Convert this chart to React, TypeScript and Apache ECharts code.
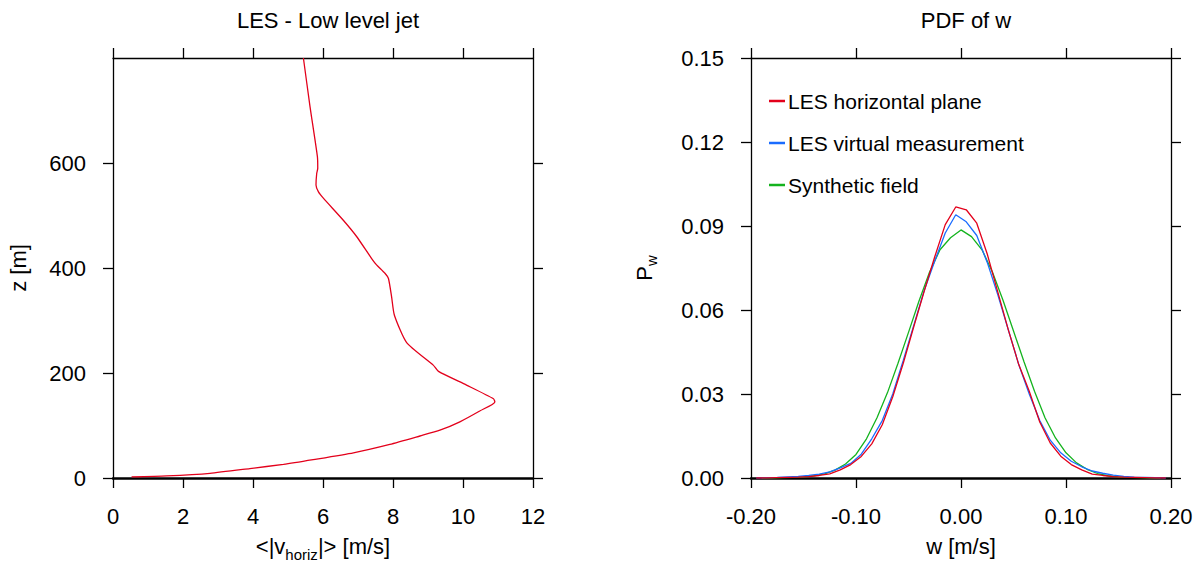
import React, { useEffect, useRef } from "react";
import * as echarts from "echarts";

// ---- Left panel: LES low level jet profile ----
const windSpeed = [0.53, 1.53, 2.77, 3.91, 4.87, 5.72, 6.87, 7.91, 8.77, 9.34, 9.91, 10.49, 10.91, 10.87, 10.1, 9.3, 9.15, 8.39, 8.04, 7.96, 7.87, 7.77, 7.53, 7.39, 6.96, 6.58, 6.01, 5.87, 5.8, 5.82, 5.85, 5.84, 5.63, 5.44];
const heightZ = [2, 4, 9, 18, 26, 35, 48, 64, 80, 91, 107, 128, 145, 151, 177, 203, 215, 258, 310, 345, 380, 390, 406, 418, 460, 491, 533, 545, 558, 580, 590, 612, 707, 800];

// ---- Right panel: PDF of w ----
const wCenters = [-0.195, -0.185, -0.175, -0.165, -0.155, -0.145, -0.135, -0.125, -0.115, -0.105, -0.095, -0.085, -0.075, -0.065, -0.055, -0.045, -0.035, -0.025, -0.015, -0.005, 0.005, 0.015, 0.025, 0.035, 0.045, 0.055, 0.065, 0.075, 0.085, 0.095, 0.105, 0.115, 0.125, 0.135, 0.145, 0.155, 0.165, 0.175, 0.185, 0.195];
const pdfHorizontal = [0.0, 0.0, 0.0001, 0.0002, 0.0003, 0.0005, 0.0009, 0.0015, 0.0029, 0.0048, 0.0077, 0.0122, 0.019, 0.029, 0.041, 0.054, 0.0668, 0.079, 0.0905, 0.0968, 0.0958, 0.091, 0.08, 0.0665, 0.053, 0.0405, 0.031, 0.02, 0.0125, 0.0078, 0.0048, 0.0029, 0.0014, 0.0009, 0.0005, 0.0003, 0.0002, 0.0001, 0.0, 0.0];
const pdfVirtual = [0.0, 0.0001, 0.0002, 0.0004, 0.0006, 0.0009, 0.0014, 0.0022, 0.0036, 0.0052, 0.0085, 0.014, 0.0205, 0.03, 0.042, 0.0545, 0.067, 0.0775, 0.0875, 0.094, 0.0915, 0.0866, 0.077, 0.0655, 0.053, 0.0405, 0.03, 0.0205, 0.0135, 0.009, 0.006, 0.004, 0.0025, 0.0017, 0.001, 0.0006, 0.0003, 0.0002, 0.0001, 0.0];
const wSynthetic = [-0.19, -0.18, -0.17, -0.16, -0.15, -0.14, -0.13, -0.12, -0.11, -0.1, -0.09, -0.08, -0.07, -0.06, -0.05, -0.04, -0.03, -0.02, -0.01, 0.0, 0.01, 0.02, 0.03, 0.04, 0.05, 0.06, 0.07, 0.08, 0.09, 0.1, 0.11, 0.12, 0.13, 0.14, 0.15, 0.16, 0.17, 0.18, 0.19];
const pdfSynthetic = [0.0, 0.0, 0.0001, 0.0002, 0.0004, 0.0008, 0.0015, 0.0028, 0.005, 0.0084, 0.014, 0.0215, 0.0305, 0.041, 0.052, 0.0632, 0.0735, 0.0815, 0.0858, 0.0886, 0.0862, 0.0815, 0.0735, 0.0635, 0.0525, 0.0415, 0.031, 0.0215, 0.0143, 0.009, 0.0054, 0.0031, 0.0016, 0.0008, 0.0004, 0.0002, 0.0001, 0.0, 0.0];

const seriesNames = ["LES horizontal plane", "LES virtual measurement", "Synthetic field"];
const leftTicksY = [0, 200, 400, 600];

const RED = "#e3001b";
const BLUE = "#1a6cff";
const GREEN = "#14b31e";
const FONT = "Liberation Sans, Arial, Helvetica, sans-serif";

export default function App() {
  const ref = useRef<HTMLDivElement>(null);
  useEffect(() => {
    document.body.style.margin = "0";
    const chart = echarts.init(ref.current!, null, { renderer: "svg" });
    const axisLine = { show: true, onZero: false, lineStyle: { color: "#000", width: 1.3 } };
    const bottomLine = { show: true, onZero: false, lineStyle: { color: "#000", width: 2.5 } };
    const tick = { show: true, inside: false, length: 10, lineStyle: { color: "#000", width: 1.3 } };
    const lbl = { fontSize: 22, color: "#000", fontFamily: FONT };
    const subRich = { s: { fontSize: 15, lineHeight: 15, verticalAlign: "bottom", color: "#000", fontFamily: FONT } };
    const zip = (a: number[], b: number[]) => a.map((v, i) => [v, b[i]]);

    const option: any = {
      animation: false,
      textStyle: { fontFamily: FONT },
      title: [
        { text: "LES - Low level jet", left: 323, textAlign: "center", top: 4, textStyle: { fontSize: 22, fontWeight: "normal", color: "#000", fontFamily: FONT } },
        { text: "PDF of w", left: 961, textAlign: "center", top: 4, textStyle: { fontSize: 22, fontWeight: "normal", color: "#000", fontFamily: FONT } },
      ],
      legend: {
        data: seriesNames,
        orient: "vertical",
        left: 769,
        top: 90,
        padding: 0,
        itemWidth: 16,
        itemHeight: 2.5,
        itemGap: 20,
        icon: "rect",
        textStyle: { fontSize: 21, color: "#000", fontFamily: FONT, lineHeight: 22, padding: [0, 0, 0, -2] },
      },
      grid: [
        { left: 113, top: 58, width: 420, height: 420, outerBoundsMode: "none", containLabel: false },
        { left: 751, top: 58, width: 420, height: 420, outerBoundsMode: "none", containLabel: false },
      ],
      xAxis: [
        {
          gridIndex: 0, type: "value", min: 0, max: 12, interval: 2, position: "bottom",
          axisLine: bottomLine, axisTick: tick, splitLine: { show: false },
          axisLabel: { ...lbl, margin: 27 },
          name: "<|v{s|horiz}|> [m/s]", nameLocation: "middle", nameGap: 53,
          nameTextStyle: { ...lbl, lineHeight: 30, rich: subRich },
        },
        {
          gridIndex: 0, type: "value", min: 0, max: 12, interval: 2, position: "top",
          axisLine: axisLine, axisTick: tick, splitLine: { show: false }, axisLabel: { show: false },
        },
        {
          gridIndex: 1, type: "value", min: -0.2, max: 0.2, interval: 0.1, position: "bottom",
          axisLine: bottomLine, axisTick: tick, splitLine: { show: false },
          axisLabel: { ...lbl, margin: 27, formatter: (v: number) => v.toFixed(2) },
          name: "w [m/s]", nameLocation: "middle", nameGap: 53,
          nameTextStyle: { ...lbl, lineHeight: 30 },
        },
        {
          gridIndex: 1, type: "value", min: -0.2, max: 0.2, interval: 0.1, position: "top",
          axisLine: axisLine, axisTick: tick, splitLine: { show: false }, axisLabel: { show: false },
        },
      ],
      yAxis: [
        {
          gridIndex: 0, type: "value", min: 0, max: 800, interval: 200, position: "left",
          axisLine: axisLine,
          axisTick: { ...tick, customValues: leftTicksY }, splitLine: { show: false },
          axisLabel: { ...lbl, margin: 27, customValues: leftTicksY },
          name: "z [m]", nameLocation: "middle", nameGap: 84,
          nameTextStyle: { ...lbl },
        },
        {
          gridIndex: 0, type: "value", min: 0, max: 800, interval: 200, position: "right",
          axisLine: axisLine, axisTick: { ...tick, customValues: leftTicksY }, splitLine: { show: false }, axisLabel: { show: false },
        },
        {
          gridIndex: 1, type: "value", min: 0, max: 0.15, interval: 0.03, position: "left",
          axisLine: axisLine, axisTick: tick, splitLine: { show: false },
          axisLabel: { ...lbl, margin: 27, formatter: (v: number) => v.toFixed(2) },
          name: "P{s|w}", nameLocation: "middle", nameGap: 92,
          nameTextStyle: { ...lbl, lineHeight: 30, rich: subRich },
        },
        {
          gridIndex: 1, type: "value", min: 0, max: 0.15, interval: 0.03, position: "right",
          axisLine: axisLine, axisTick: tick, splitLine: { show: false }, axisLabel: { show: false },
        },
      ],
      series: [
        {
          name: "jet", type: "line", xAxisIndex: 0, yAxisIndex: 0, data: zip(windSpeed, heightZ),
          showSymbol: false, symbol: "none", smooth: 0.2, color: RED, lineStyle: { color: RED, width: 1.3 },
        },
        {
          name: seriesNames[2], type: "line", xAxisIndex: 2, yAxisIndex: 2, data: zip(wSynthetic, pdfSynthetic),
          showSymbol: false, symbol: "none", color: GREEN, lineStyle: { color: GREEN, width: 1.3 }, z: 2,
        },
        {
          name: seriesNames[1], type: "line", xAxisIndex: 2, yAxisIndex: 2, data: zip(wCenters, pdfVirtual),
          showSymbol: false, symbol: "none", color: BLUE, lineStyle: { color: BLUE, width: 1.3 }, z: 3,
        },
        {
          name: seriesNames[0], type: "line", xAxisIndex: 2, yAxisIndex: 2, data: zip(wCenters, pdfHorizontal),
          showSymbol: false, symbol: "none", color: RED, lineStyle: { color: RED, width: 1.3 }, z: 4,
        },
      ],
    };
    chart.setOption(option);
    return () => chart.dispose();
  }, []);
  return <div ref={ref} style={{ width: 1199, height: 564 }} />;
}
